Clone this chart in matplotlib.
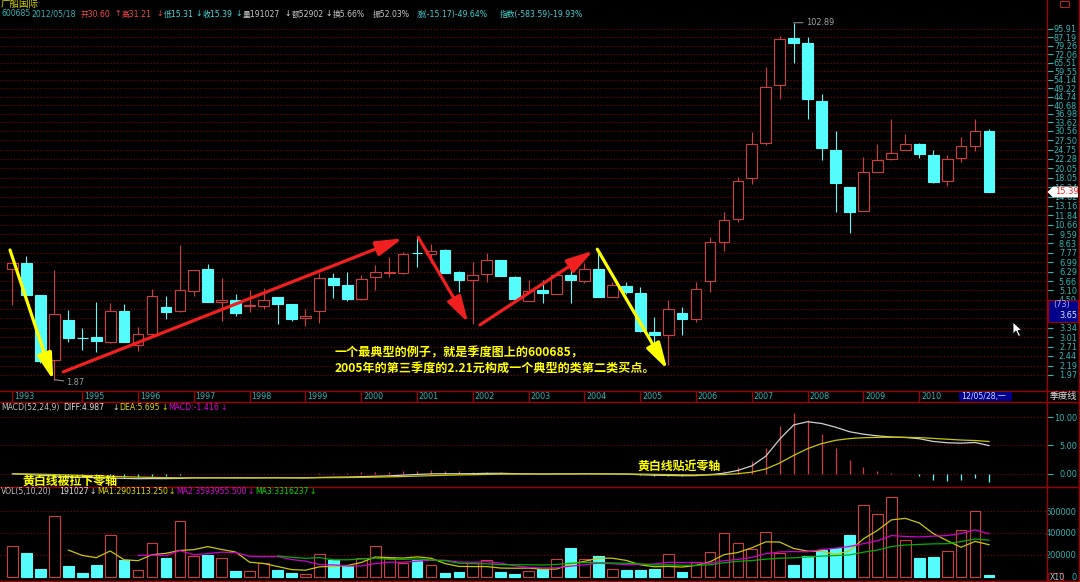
import numpy as np
import pandas as pd
import matplotlib
matplotlib.use('Agg')
import matplotlib.pyplot as plt
from matplotlib.patches import Rectangle, Polygon
from matplotlib.lines import Line2D

plt.rcParams['font.family'] = ['DejaVu Sans', 'Noto Sans CJK SC']

# ---------------- data (quarterly, 1993Q4 ...) ----------------
opens = [6.46, 6.96, 4.84, 2.33, 3.65, 2.99, 3.01, 2.85, 4.05, 2.76,
         3.12, 4.22, 4.03, 5.08, 6.48, 4.48, 4.59, 4.29, 4.29, 4.73,
         4.37, 3.72, 4.03, 5.84, 5.40, 4.62, 5.95, 6.18, 6.22, 7.74,
         7.65, 8.02, 6.29, 5.73, 6.11, 7.15, 5.93, 4.53, 5.12, 4.91,
         6.04, 5.68, 6.46, 4.75, 5.38, 4.93, 3.19, 3.10, 3.97, 3.71,
         5.68, 8.80, 11.32, 17.95, 26.58, 50.98, 86.4, 81.7, 42.88, 24.73,
         16.27, 12.47, 19.32, 22.21, 24.73, 26.47, 23.39, 17.46, 22.45, 25.75,
         30.60]
highs = [6.95, 7.50, 4.86, 6.41, 4.09, 3.33, 4.48, 4.43, 4.37, 3.37,
         5.18, 4.79, 8.48, 6.40, 6.86, 5.84, 4.90, 5.10, 5.22, 4.75,
         4.38, 4.12, 6.18, 6.22, 6.25, 6.06, 6.76, 7.44, 7.82, 9.27,
         8.58, 8.11, 6.34, 7.03, 7.73, 7.17, 5.99, 5.73, 5.73, 6.34,
         6.53, 6.96, 8.02, 5.60, 5.60, 5.28, 3.76, 4.57, 4.21, 5.58,
         9.23, 12.33, 18.27, 30.08, 62.4, 88.65, 102.89, 87.9, 46.24, 30.51,
         16.30, 22.71, 26.27, 35.04, 29.40, 26.76, 24.65, 23.39, 28.62, 35.04,
         31.21]
lows = [4.32, 4.80, 2.26, 1.87, 2.86, 2.61, 2.56, 2.82, 2.85, 2.59,
        3.03, 3.70, 3.99, 4.78, 4.46, 3.62, 3.80, 4.01, 4.15, 3.49,
        3.62, 3.40, 3.54, 4.69, 4.50, 4.57, 5.12, 5.95, 6.13, 6.66,
        6.91, 6.20, 5.02, 3.49, 5.58, 6.00, 4.57, 4.52, 4.43, 4.90,
        4.43, 5.55, 4.74, 4.73, 4.90, 3.20, 2.71, 2.21, 3.09, 3.58,
        5.02, 7.96, 11.02, 16.77, 26.08, 43.56, 65.7, 35.04, 22.03, 12.33,
        9.68, 12.43, 19.26, 22.03, 24.65, 22.45, 17.07, 16.52, 21.62, 24.38,
        15.31]
closes = [6.91, 4.84, 2.31, 3.90, 3.00, 2.98, 2.90, 4.06, 2.86, 3.12,
          4.79, 3.99, 5.10, 6.39, 4.48, 4.59, 3.97, 4.30, 4.59, 4.38,
          3.70, 3.82, 5.86, 5.43, 4.64, 5.80, 6.25, 6.27, 7.67, 7.72,
          7.93, 6.22, 5.73, 6.04, 7.15, 6.02, 4.60, 5.06, 4.93, 6.06,
          5.73, 6.46, 4.75, 5.40, 4.99, 3.23, 3.10, 4.12, 3.71, 5.16,
          8.80, 11.19, 17.46, 26.27, 49.86, 85.43, 82.2, 43.56, 25.30, 16.96,
          12.25, 19.19, 21.96, 23.92, 26.27, 23.49, 17.27, 22.21, 25.66, 30.41,
          15.39]
volumes = [276700, 214600, 73000, 553400, 101400, 34700, 107800, 380800, 151600, 60300,
           305000, 173500, 513200, 186300, 198200, 173500, 56600, 50200, 129700, 60300,
           34700, 25600, 204600, 151600, 97700, 173500, 276700, 176000, 129700, 154300,
           110500, 34700, 43800, 123300, 154300, 41100, 28300, 50200, 73000, 160700,
           261200, 160700, 191800, 73000, 60300, 60300, 73000, 208200, 41100, 138800,
           223700, 396300, 308700, 254800, 409100, 214600, 104100, 186300, 248400, 261200,
           380800, 654800, 569800, 726900, 333300, 169900, 176200, 239300, 428300, 600900,
           19100]

year_labels = ['1993', '1995', '1996', '1997', '1998', '1999', '2000', '2001', '2002',
               '2003', '2004', '2005', '2006', '2007', '2008', '2009', '2010']
year_pos = [0, 5, 9, 13, 17, 21, 25, 29, 33, 37, 41, 45, 49, 53, 57, 61, 65]

price_ticks = [95.91, 87.19, 79.26, 72.06, 65.51, 59.55, 54.14, 49.22, 44.74, 40.68,
               36.98, 33.62, 30.56, 27.50, 24.75, 22.28, 20.05, 18.05, 16.24, 14.62,
               13.16, 11.84, 10.66, 9.59, 8.63, 7.77, 6.99, 6.29, 5.66, 5.10,
               4.59, 4.13, 3.72, 3.34, 3.01, 2.71, 2.44, 2.19, 1.97]
hidden_ticks = [4.13, 3.72]          # covered by the cursor read-out box
macd_ticks = [0.0, 5.0, 10.0]
vol_ticks = [0, 200000, 400000, 600000]

# ---------------- style ----------------
W, H = 1080, 582
BG = 'black'
RED = '#d23c3c'
CYAN = '#54fcfc'
FRAME = '#a00000'
GRID = '#7a0000'
TEAL = '#2fb8b8'
YEL = '#ffff00'
ARROW_RED = '#f02020'
XR = 1046.7
X0, DX = 12.5, 13.95

def px2x(px):
    return (px - X0) / DX

fig = plt.figure(figsize=(W / 100, H / 100), dpi=100, facecolor=BG)
renderer = fig.canvas.get_renderer()

def box(yt, yb):
    return [0, 1 - yb / H, XR / W, (yb - yt) / H]

ax = fig.add_axes(box(20, 391))
axd = fig.add_axes(box(391, 401.5))
axm = fig.add_axes(box(401.5, 487))
axv = fig.add_axes(box(487, 581))

xlim = (px2x(0), px2x(XR))
for a in (ax, axd, axm, axv):
    a.set_facecolor(BG)
    a.set_xlim(*xlim)
    for s in a.spines.values():
        s.set_visible(False)
    a.set_xticks([])

n = len(closes)
idx = np.arange(n)
bw = 0.77
lw = 0.8

# ---------------- price panel ----------------
ax.set_yscale('log')
ax.set_ylim(1.646, 106.1)
ax.yaxis.set_minor_locator(matplotlib.ticker.NullLocator())
ax.set_yticks(price_ticks)
ax.set_yticklabels(['' if v in hidden_ticks else '%.2f' % v for v in price_ticks])
for v in price_ticks:
    ax.axhline(v, color=GRID, lw=0.8, ls=(0, (1.2, 1.8)), zorder=0)

def draw_candles(a, o_, h_, l_, c_):
    for i, (o, h, l, c) in enumerate(zip(o_, h_, l_, c_)):
        lo, hi = min(o, c), max(o, c)
        if c >= o:
            a.vlines(i, l, lo, color=RED, lw=lw, zorder=2)
            a.vlines(i, hi, h, color=RED, lw=lw, zorder=2)
            a.add_patch(Rectangle((i - bw / 2, lo), bw, hi - lo, facecolor=BG,
                                  edgecolor=RED, lw=lw, zorder=3))
        else:
            a.vlines(i, l, h, color=CYAN, lw=lw, zorder=2)
            a.add_patch(Rectangle((i - bw / 2, lo), bw, hi - lo, facecolor=CYAN,
                                  edgecolor=CYAN, lw=lw, zorder=3))

draw_candles(ax, opens, highs, lows, closes)

imin = int(np.argmin(lows))
imax = int(np.argmax(highs))
ax.annotate('%.2f' % lows[imin], xy=(imin, lows[imin]), xytext=(12, -3),
            textcoords='offset pixels', color='#a0a0a0', fontsize=5.9,
            va='center', ha='left',
            arrowprops=dict(arrowstyle='-', color='#a0a0a0', lw=0.7, shrinkA=0, shrinkB=0))
ax.annotate('%.2f' % highs[imax], xy=(imax, highs[imax]), xytext=(12, 0),
            textcoords='offset pixels', color='#a0a0a0', fontsize=5.9,
            va='center', ha='left',
            arrowprops=dict(arrowstyle='-', color='#a0a0a0', lw=0.7, shrinkA=0, shrinkB=0))

arrows = [
    (px2x(10), 8.02, px2x(53.3), 1.86, YEL),
    (px2x(63.3), 2.04, px2x(402.7), 9.14, ARROW_RED),
    (px2x(418.3), 9.24, px2x(468.3), 3.54, ARROW_RED),
    (px2x(480), 3.46, px2x(593.3), 7.96, ARROW_RED),
    (px2x(597.3), 8.09, px2x(667.3), 2.10, YEL),
]
for x1, y1, x2, y2, col in arrows:
    ax.annotate('', xy=(x2, y2), xytext=(x1, y1),
                arrowprops=dict(arrowstyle='-|>,head_length=1.6,head_width=0.45',
                                mutation_scale=10, color=col, lw=2.3,
                                shrinkA=0, shrinkB=0), zorder=6)

ax.yaxis.tick_right()
ax.tick_params(axis='y', which='major', colors=TEAL, labelsize=5.9, length=4.3,
               width=0.8, pad=17.5, direction='out')
for lab in ax.get_yticklabels():
    lab.set_horizontalalignment('right')

# ---------------- date strip ----------------
axd.set_ylim(0, 1)
axd.set_yticks([])
for p, t in zip(year_pos, year_labels):
    axd.axvline(p, color=FRAME, lw=0.9)
    axd.text(p + 0.12, 0.45, t, color=TEAL, fontsize=5.8, va='center', ha='left')

# ---------------- MACD ----------------
cs = pd.Series(closes, dtype=float)
diff = cs.ewm(span=24, adjust=False).mean() - cs.ewm(span=52, adjust=False).mean()
dea = diff.ewm(span=9, adjust=False).mean()
macd = 2 * (diff - dea)
axm.set_ylim(-2.32, 12.73)
for v in macd_ticks:
    axm.axhline(v, color=GRID, lw=0.8, ls=(0, (1.2, 1.8)), zorder=0)
mcol = [RED if m >= 0 else CYAN for m in macd]
axm.vlines(idx, 0, macd, colors=mcol, lw=0.9, zorder=2)
axm.plot(idx, diff, color='#d0d0d0', lw=0.9, zorder=3)
axm.plot(idx, dea, color='#c8c800', lw=0.9, zorder=3)
axm.yaxis.tick_right()
axm.set_yticks(macd_ticks)
axm.set_yticklabels(['%.2f' % v for v in macd_ticks])
axm.tick_params(axis='y', colors=TEAL, labelsize=5.9, length=4.3, width=0.8, pad=17.5)
for lab in axm.get_yticklabels():
    lab.set_horizontalalignment('right')

# ---------------- VOL ----------------
axv.set_ylim(-38300, 818900)
for v in vol_ticks[1:]:
    axv.axhline(v, color=GRID, lw=0.8, ls=(0, (1.2, 1.8)), zorder=0)
for i, (o, c, v) in enumerate(zip(opens, closes, volumes)):
    if c >= o:
        axv.add_patch(Rectangle((i - bw / 2, 0), bw, v, facecolor=BG, edgecolor=RED, lw=lw, zorder=2))
    else:
        axv.add_patch(Rectangle((i - bw / 2, 0), bw, v, facecolor=CYAN, edgecolor=CYAN, lw=lw, zorder=2))
vs = pd.Series(volumes, dtype=float)
axv.plot(idx, vs.rolling(5).mean(), color='#c8c800', lw=0.9, zorder=3)
axv.plot(idx, vs.rolling(10).mean(), color='#d000d0', lw=0.9, zorder=3)
axv.plot(idx, vs.rolling(20).mean(), color='#00b000', lw=0.9, zorder=3)
axv.yaxis.tick_right()
axv.set_yticks(vol_ticks)
axv.set_yticklabels([str(v) for v in vol_ticks])
axv.tick_params(axis='y', colors=TEAL, labelsize=5.9, length=0, pad=21.5)
for lab in axv.get_yticklabels():
    lab.set_horizontalalignment('right')

# ---------------- frame lines ----------------
def hline(y, x1=0, x2=1078.5, c=FRAME, w=1.0):
    fig.add_artist(Line2D([x1 / W, x2 / W], [1 - y / H, 1 - y / H], color=c, lw=w))

def vline(x, y1=0, y2=H, c=FRAME, w=1.0):
    fig.add_artist(Line2D([x / W, x / W], [1 - y1 / H, 1 - y2 / H], color=c, lw=w))

for y in (391, 401.5, 487, 581):
    hline(y)
vline(XR)
vline(1078.5)

def ftext(x, y, s, color, size=5.6, **kw):
    return fig.text(x / W, 1 - y / H, s, color=color, fontsize=size, va='center', ha='left', **kw)

def seq_text(items, y, size, gap=1.0):
    prev_end = -1e9
    for x, s, c in items:
        x0 = max(x, prev_end + gap)
        t = ftext(x0, y, s, c, size=size)
        prev_end = t.get_window_extent(renderer).x1

def frect(x1, y1, x2, y2, fc, ec='none', lw_=0.8, z=5):
    fig.add_artist(Rectangle((x1 / W, 1 - y2 / H), (x2 - x1) / W, (y2 - y1) / H,
                             facecolor=fc, edgecolor=ec, lw=lw_, zorder=z))

# ---------------- header texts ----------------
ftext(1, 4, '广船国际', '#d8d800', size=6.8)
hdr = [
    (1, '600685', TEAL), (27, '2012/05/18', TEAL),
    (81, '开30.60', '#ff4848'), (114, '↑', '#ff4848'), (121.7, '高31.21', '#ff4848'), (156, '↓', '#ff4848'),
    (162.6, '低15.31', '#40e0e0'), (195, '↓', '#40e0e0'), (202.8, '收15.39', '#40e0e0'), (235, '↓', '#40e0e0'),
    (242.6, '量191027', '#c8c8c8'), (284, '↓', '#e0e0e0'), (290.8, '额52902', '#c8c8c8'), (325, '↓', '#e0e0e0'),
    (331, '换5.66%', '#c8c8c8'), (373, '振52.03%', '#c8c8c8'),
    (417, '涨(-15.17)-49.64%', '#40d0d0'), (499.4, '指数(-583.59)-19.93%', '#40d0d0'),
]
seq_text(hdr, 14, 5.6)

mh = [(1, 'MACD(52,24,9)', '#c0c0c0'), (63.7, 'DIFF:4.987', '#e0e0e0'), (112, '↓', '#e0e0e0'),
      (118, 'DEA:5.695', '#e0e000'), (161, '↓', '#e0e000'),
      (167.7, 'MACD:-1.416', '#e000e0'), (220, '↓', '#e000e0')]
seq_text(mh, 407.7, 5.6)

vh = [(1, 'VOL(5,10,20)', '#c0c0c0'), (59, '191027', '#e0e0e0'), (89, '↓', '#e0e0e0'),
      (95.4, 'MA1:2903113.250', '#e0e000'), (166, '↓', '#e0e000'),
      (172, 'MA2:3593955.500', '#e000e0'), (242.5, '↓', '#e000e0'),
      (248.6, 'MA3:3316237', '#00e000'), (301, '↓', '#00e000')]
seq_text(vh, 491.8, 5.6)

cfont = ['Noto Sans CJK SC', 'DejaVu Sans']
fig.text(335 / W, 1 - 353 / H, '一个最典型的例子，就是季度图上的600685，', color=YEL,
         fontsize=8.7, fontweight='bold', family=cfont, va='center', ha='left', zorder=7)
fig.text(335 / W, 1 - 368 / H, '2005年的第三季度的2.21元构成一个典型的类第二类买点。', color=YEL,
         fontsize=8.7, fontweight='bold', family=cfont, va='center', ha='left', zorder=7)
fig.text(22 / W, 1 - 481.5 / H, '黄白线被拉下零轴', color=YEL, fontsize=8.6,
         fontweight='bold', family=cfont, va='center', ha='left', zorder=7)
fig.text(637 / W, 1 - 466 / H, '黄白线贴近零轴', color=YEL, fontsize=8.6,
         fontweight='bold', family=cfont, va='center', ha='left', zorder=7)

# right column widgets
fig.add_artist(Polygon([(1047.5 / W, 1 - 192 / H), (1053 / W, 1 - 186.5 / H), (1078 / W, 1 - 186.5 / H),
                        (1078 / W, 1 - 197.5 / H), (1053 / W, 1 - 197.5 / H)],
                       closed=True, facecolor='white', edgecolor='none', zorder=5))
ftext(1055, 192, '15.39', '#ff2020', size=6.0, zorder=6)

frect(1047.5, 299.5, 1078, 321.5, '#00008c', ec=FRAME)
ftext(1053, 305, '(73)', '#b0b0ff', size=5.9, zorder=6)
ftext(1059, 316, '3.65', '#e0e8ff', size=5.9, zorder=6)

frect(959.4, 392, 1011.8, 401, '#00008c')
ftext(961, 396.3, '12/05/28,一', '#c8e0ff', size=5.6, zorder=6)
ftext(1049.5, 396, '季度线', '#e0e0e0', size=6.6, zorder=6)

frect(1048, 572.5, 1063, 581, 'none', ec=FRAME)
ftext(1049.5, 577, 'X10', '#a0c8c8', size=5.6, zorder=6)
frect(1060, 1, 1069, 7, 'none', ec='#c02020', lw_=0.7)

cur = [(1013, 322), (1013, 334), (1016, 331), (1018.5, 336.5), (1020.5, 335.5), (1018, 330.5), (1022, 330.5)]
fig.add_artist(Polygon([(x / W, 1 - y / H) for x, y in cur], closed=True,
                       facecolor='white', edgecolor='black', lw=0.6, zorder=8))

fig.savefig('out.png', dpi=100, facecolor=BG)
